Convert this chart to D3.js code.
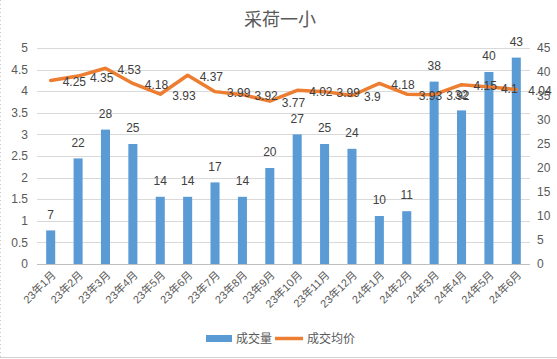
<!DOCTYPE html>
<html><head><meta charset="utf-8">
<script src="https://cdn.jsdelivr.net/npm/d3@7"></script>
<style>body{margin:0;background:#fff}svg{display:block}text{font-family:"Liberation Sans","Noto Sans CJK SC",sans-serif;fill:#404040}</style>
</head><body><svg id="c" width="557" height="359"></svg>
<script>
const title = "采荷一小";
const categories = ["23年1月","23年2月","23年3月","23年4月","23年5月","23年6月","23年7月","23年8月","23年9月","23年10月","23年11月","23年12月","24年1月","24年2月","24年3月","24年4月","24年5月","24年6月"];
const volume = [7,22,28,25,14,14,17,14,20,27,25,24,10,11,38,32,40,43];
const avgPrice = [4.25,4.35,4.53,4.18,3.93,4.37,3.99,3.92,3.77,4.02,3.99,3.9,4.18,3.93,3.92,4.15,4.1,4.04];
const leftTicks = [0,0.5,1,1.5,2,2.5,3,3.5,4,4.5,5];
const rightTicks = [0,5,10,15,20,25,30,35,40,45];
const seriesNames = ["成交量","成交均价"];

const svg = d3.select("#c");
const L=37, R=530, T=48, B=264;
const x = d3.scaleBand().domain(categories).range([L,R]).paddingInner(0).paddingOuter(0);
const yL = d3.scaleLinear().domain([0,5]).range([B,T]);
const yR = d3.scaleLinear().domain([0,45]).range([B,T]);
const blue="#5B9BD5", orange="#ED7D31", grid="#D9D9D9", axisTxt="#595959";

// border
svg.append("line").attr("x1",0).attr("x2",557).attr("y1",357.5).attr("y2",357.5).attr("stroke","#D0D0D0");
svg.append("line").attr("x1",0.5).attr("x2",0.5).attr("y1",0).attr("y2",357).attr("stroke","#C8C8C8").attr("stroke-dasharray","1,3");

svg.append("text").attr("x",280).attr("y",20).attr("text-anchor","middle").attr("dominant-baseline","central")
  .style("font-size","18px").style("fill",axisTxt).text(title);

// gridlines
svg.append("g").selectAll("line").data(leftTicks).join("line")
  .attr("x1",L).attr("x2",R).attr("y1",d=>Math.round(yL(d))+0.5).attr("y2",d=>Math.round(yL(d))+0.5)
  .attr("stroke",d=>d===0?"#BFBFBF":grid).attr("stroke-width",1);

// left axis labels
svg.append("g").selectAll("text").data(leftTicks).join("text")
  .attr("x",28).attr("y",d=>yL(d)).attr("dy","0.35em").attr("text-anchor","end")
  .style("font-size","12px").style("fill",axisTxt).text(d=>d);
// right axis labels
svg.append("g").selectAll("text").data(rightTicks).join("text")
  .attr("x",537).attr("y",d=>yR(d)).attr("dy","0.35em").attr("text-anchor","start")
  .style("font-size","12px").style("fill",axisTxt).text(d=>d);

// bars
const bw = x.bandwidth()*0.33;
svg.append("g").selectAll("rect").data(volume).join("rect")
  .attr("x",(d,i)=>x(categories[i])+x.bandwidth()/2-bw/2).attr("width",bw)
  .attr("y",d=>yR(d)).attr("height",d=>B-yR(d)).attr("fill",blue);

// line
const line = d3.line().x((d,i)=>x(categories[i])+x.bandwidth()/2).y(d=>yL(d));
svg.append("path").datum(avgPrice).attr("d",line).attr("fill","none").attr("stroke",orange)
  .attr("stroke-width",3.5).attr("stroke-linejoin","round").attr("stroke-linecap","round");

// bar labels
svg.append("g").selectAll("text").data(volume).join("text")
  .attr("x",(d,i)=>x(categories[i])+x.bandwidth()/2).attr("y",d=>yR(d)-16).attr("dy","0.35em")
  .attr("text-anchor","middle").style("font-size","12px").text(d=>d);
// line labels
svg.append("g").selectAll("text").data(avgPrice).join("text")
  .attr("x",(d,i)=>x(categories[i])+x.bandwidth()/2+12).attr("y",d=>yL(d)+1.5).attr("dy","0.35em")
  .attr("text-anchor","start").style("font-size","12px").text(d=>d);

// x labels
svg.append("g").selectAll("text").data(categories).join("text")
  .attr("transform",d=>`translate(${x(d)+x.bandwidth()/2+3},${B+9}) rotate(-45)`)
  .attr("text-anchor","end").attr("dy","0.35em").style("font-size","11px").style("fill",axisTxt).text(d=>d);

// legend
const lg = svg.append("g");
lg.append("rect").attr("x",206).attr("y",335).attr("width",26).attr("height",7).attr("fill",blue);
lg.append("text").attr("x",236).attr("y",338.5).attr("dy","0.35em").style("font-size","12px").style("fill",axisTxt).text(seriesNames[0]);
lg.append("line").attr("x1",275).attr("x2",303).attr("y1",338.5).attr("y2",338.5).attr("stroke",orange).attr("stroke-width",3.5);
lg.append("text").attr("x",307).attr("y",338.5).attr("dy","0.35em").style("font-size","12px").style("fill",axisTxt).text(seriesNames[1]);
</script></body></html>
